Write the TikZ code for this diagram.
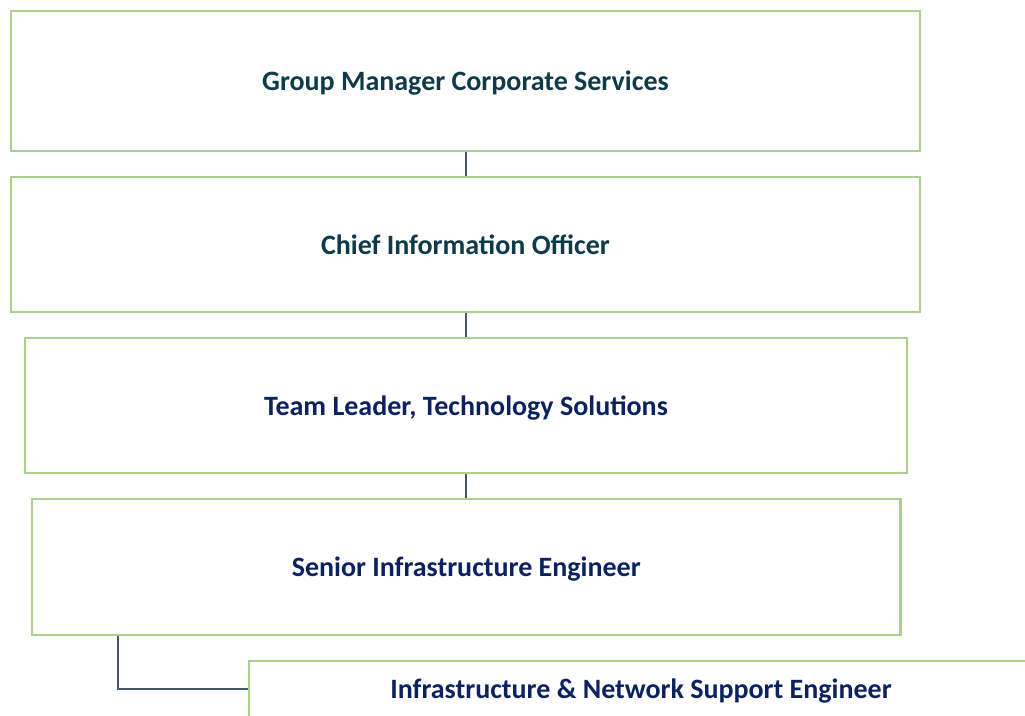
\documentclass[tikz,border=0pt]{standalone}
\usepackage{fontspec}
\setmainfont{Carlito}
\definecolor{boxgreen}{HTML}{A9D18E}
\definecolor{tealtext}{HTML}{0E3B4A}
\definecolor{navytext}{HTML}{0C2260}
\definecolor{linkgray}{HTML}{44546A}
\begin{document}
\begin{tikzpicture}[x=0.75pt,y=-0.75pt,
  orgbox/.style={draw=boxgreen, line width=1.8pt, fill=white, rectangle, inner sep=0pt,
    text height=14.5pt, text depth=0pt,
    font=\fontsize{21}{24}\selectfont\bfseries},
  link/.style={draw=linkgray, line width=1.6pt}]
\useasboundingbox (0,0) rectangle (1025,715);
\clip (0,0) rectangle (1025,715);
\node[orgbox, text=tealtext, minimum width=909*0.75pt, minimum height=140*0.75pt] (gm) at (465.5,81) {Group Manager Corporate Services};
\node[orgbox, text=tealtext, minimum width=909*0.75pt, minimum height=135*0.75pt] (cio) at (465.5,244.5) {Chief Information Officer};
\node[orgbox, text=navytext, minimum width=882*0.75pt, minimum height=135*0.75pt] (tl) at (466,405.5) {Team Leader, Technology Solutions};
\node[orgbox, text=navytext, minimum width=868.5*0.75pt, minimum height=136*0.75pt] (sie) at (466.25,567) {Senior Infrastructure Engineer};
\node[orgbox, text=navytext, minimum width=784*0.75pt, minimum height=56*0.75pt] (inse) at (641,689) {Infrastructure \& Network Support Engineer};
\draw[link] (gm.south -| 466,0) -- (cio.north -| 466,0);
\draw[link] (cio.south -| 466,0) -- (tl.north -| 466,0);
\draw[link] (tl.south -| 466,0) -- (sie.north -| 466,0);
\coordinate (elb) at (118,636);
\draw[link] (elb) |- (inse.west);
\end{tikzpicture}
\end{document}
